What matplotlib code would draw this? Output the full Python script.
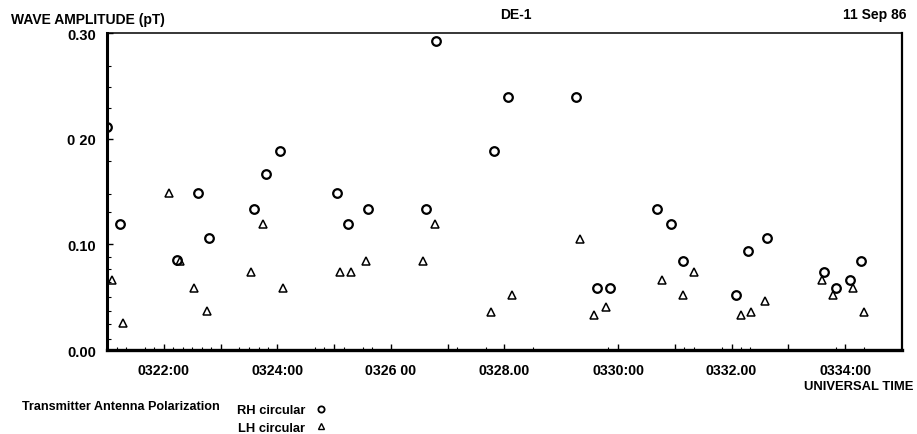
import matplotlib
matplotlib.use("Agg")
import matplotlib.pyplot as plt
from matplotlib.lines import Line2D

plt.rcParams["font.family"] = ["Liberation Sans", "DejaVu Sans"]
plt.rcParams["font.weight"] = "bold"

# time in minutes after 0300 UT, amplitude in pT
rh_time = [21.00, 21.23, 22.24, 22.60, 22.80, 23.59, 23.80, 24.05, 25.05, 25.25,
           25.60, 26.61, 26.80, 27.82, 28.07, 29.26, 29.63, 29.85, 30.69, 30.94,
           31.14, 32.08, 32.28, 32.63, 33.63, 33.84, 34.08, 34.28]
rh_amp = [0.211, 0.119, 0.085, 0.149, 0.106, 0.133, 0.167, 0.188, 0.149, 0.119,
          0.133, 0.133, 0.292, 0.188, 0.239, 0.239, 0.059, 0.059, 0.133, 0.119,
          0.084, 0.052, 0.094, 0.106, 0.074, 0.059, 0.066, 0.084]

lh_time = [21.09, 21.28, 22.09, 22.28, 22.54, 22.76, 23.54, 23.74, 24.10, 25.10,
           25.30, 25.56, 26.56, 26.77, 27.77, 28.13, 29.33, 29.58, 29.78, 30.78,
           31.14, 31.34, 32.16, 32.34, 32.59, 33.59, 33.78, 34.14, 34.34]
lh_amp = [0.066, 0.026, 0.149, 0.084, 0.059, 0.037, 0.074, 0.119, 0.059, 0.074,
          0.074, 0.084, 0.084, 0.119, 0.036, 0.052, 0.105, 0.033, 0.041, 0.066,
          0.052, 0.074, 0.033, 0.036, 0.046, 0.066, 0.052, 0.059, 0.036]

x_minutes = [22, 23, 24, 25, 26, 27, 28, 30, 31, 32, 33, 34]
x_labels = ["0322:00", "", "0324:00", "", "0326 00", "", "0328.00",
            "0330:00", "", "0332.00", "", "0334:00"]
x_small = [21.17, 21.33, 21.67, 21.83, 22.17, 22.33, 22.5, 22.67, 22.83, 23.33,
           23.5, 23.67, 23.83, 24.67, 24.83, 25.17, 25.5, 25.67, 27.17, 27.67,
           28.5, 29.83, 31.17, 31.33, 31.83, 32.17, 32.33, 33.83, 34.33]

y_major = [0.0, 0.1, 0.2, 0.3]
y_labels = ["0.00", "0.10", "0 20", "0.30"]
y_small = [0.010, 0.025, 0.037, 0.050, 0.064, 0.077, 0.088, 0.131, 0.148,
           0.179, 0.229, 0.249, 0.269]

fig = plt.figure(figsize=(9.17, 4.35), dpi=100)
ax = fig.add_axes([0.1167, 0.193, 0.8669, 0.7288])

ax.plot(rh_time, rh_amp, linestyle="none", marker="o", ms=6.2,
        mfc="none", mec="black", mew=1.6, clip_on=True)
ax.plot(lh_time, lh_amp, linestyle="none", marker="^", ms=5.8,
        mfc="none", mec="black", mew=1.1, clip_on=True)

ax.set_xlim(21.0, 35.0)
ax.set_ylim(0.0, 0.30)

ax.set_xticks(x_minutes)
ax.set_xticklabels(x_labels, fontsize=10.2)
ax.set_xticks(x_small, minor=True)
ax.set_yticks(y_major)
ax.set_yticklabels(y_labels, fontsize=10.5)
ax.set_yticks(y_small, minor=True)

ax.tick_params(axis="x", which="major", direction="in", length=4, width=1.0, pad=9)
ax.tick_params(axis="x", which="minor", direction="in", length=2.5, width=0.8)
ax.tick_params(axis="y", which="major", direction="in", length=4, width=1.0, pad=8)
ax.tick_params(axis="y", which="minor", direction="in", length=3, width=0.8)

ax.spines["left"].set_linewidth(2.2)
ax.spines["bottom"].set_linewidth(2.4)
ax.spines["top"].set_linewidth(1.1)
ax.spines["right"].set_linewidth(1.6)

fig.text(0.012, 0.955, "WAVE AMPLITUDE (pT)", fontsize=10, ha="left", va="center")
fig.text(0.563, 0.965, "DE-1", fontsize=10, ha="center", va="center")
fig.text(0.989, 0.965, "11 Sep 86", fontsize=10, ha="right", va="center")
fig.text(0.996, 0.110, "UNIVERSAL TIME", fontsize=9.4, ha="right", va="center")

fig.text(0.024, 0.064, "Transmitter Antenna Polarization", fontsize=9.1,
         ha="left", va="center")
handles = [
    Line2D([], [], linestyle="none", marker="o", ms=4.5, mfc="none", mec="black", mew=1.3),
    Line2D([], [], linestyle="none", marker="^", ms=4.5, mfc="none", mec="black", mew=1.0),
]
fig.legend(handles, ["RH circular", "LH circular"], markerfirst=False, frameon=False,
           loc="upper left", bbox_to_anchor=(0.258, 0.069), fontsize=9.3,
           handlelength=1.55, handletextpad=0.45, labelspacing=0.45,
           borderpad=0.0, borderaxespad=0.0)

fig.savefig("out.png", dpi=100)
